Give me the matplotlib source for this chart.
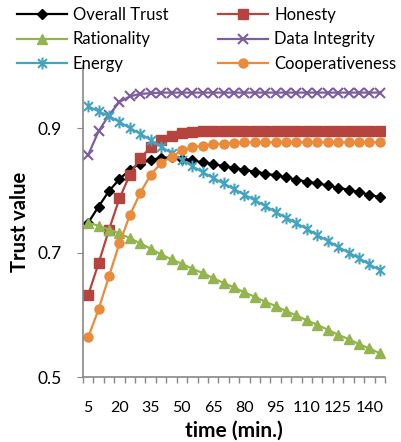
import matplotlib.pyplot as plt
import numpy as np
from matplotlib.path import Path

plt.rcParams['font.family'] = ['Lato', 'DejaVu Sans']

minutes = list(range(5, 150, 5))
tick_labels = [str(m) for m in minutes[::3]]

overall_trust = [0.748, 0.774, 0.799, 0.818, 0.833, 0.843, 0.849, 0.852, 0.853, 0.851,
                 0.848, 0.845, 0.842, 0.839, 0.836, 0.833, 0.830, 0.827, 0.824, 0.821,
                 0.817, 0.814, 0.811, 0.808, 0.804, 0.801, 0.797, 0.793, 0.789]
honesty = [0.632, 0.683, 0.737, 0.787, 0.825, 0.852, 0.869, 0.881, 0.888, 0.892,
           0.894, 0.895, 0.895, 0.895, 0.895, 0.895, 0.895, 0.895, 0.895, 0.895,
           0.895, 0.895, 0.895, 0.895, 0.895, 0.895, 0.895, 0.895, 0.895]
rationality = [0.748, 0.743, 0.737, 0.731, 0.723, 0.715, 0.706, 0.697, 0.689, 0.682,
               0.674, 0.667, 0.659, 0.651, 0.644, 0.636, 0.629, 0.621, 0.614, 0.606,
               0.599, 0.591, 0.584, 0.576, 0.568, 0.561, 0.553, 0.546, 0.538]
data_integrity = [0.857, 0.895, 0.921, 0.942, 0.951, 0.955, 0.956, 0.957, 0.957, 0.957,
                  0.957, 0.957, 0.957, 0.957, 0.957, 0.957, 0.957, 0.957, 0.957, 0.957,
                  0.957, 0.957, 0.957, 0.957, 0.957, 0.957, 0.957, 0.957, 0.957]
energy = [0.935, 0.927, 0.919, 0.910, 0.900, 0.891, 0.881, 0.870, 0.860, 0.849,
          0.839, 0.829, 0.820, 0.811, 0.802, 0.793, 0.784, 0.775, 0.765, 0.756,
          0.747, 0.738, 0.728, 0.719, 0.709, 0.700, 0.691, 0.681, 0.672]
cooperativeness = [0.564, 0.609, 0.662, 0.715, 0.760, 0.796, 0.825, 0.844, 0.854, 0.864,
                   0.869, 0.872, 0.874, 0.875, 0.876, 0.877, 0.877, 0.877, 0.877, 0.877,
                   0.877, 0.877, 0.877, 0.877, 0.877, 0.877, 0.877, 0.877, 0.877]

# excel style asterisk: X plus a vertical bar
star = Path([(0, -1), (0, 1), (-0.75, -0.75), (0.75, 0.75), (-0.75, 0.75), (0.75, -0.75)],
            [Path.MOVETO, Path.LINETO] * 3)

fig = plt.figure(figsize=(4.01, 4.42), dpi=100)
ax = fig.add_axes([0.207, 0.147, 0.753, 0.704])

x = np.arange(len(minutes))
lw = 1.6
l1, = ax.plot(x, overall_trust, color='black', lw=lw, marker='D', ms=5, label='Overall Trust')
l2, = ax.plot(x, honesty, color='#B5443F', lw=lw, marker='s', ms=6.5, label='Honesty')
l3, = ax.plot(x, rationality, color='#94B44F', lw=lw, marker='^', ms=7, label='Rationality')
l4, = ax.plot(x, data_integrity, color='#7D5E9F', lw=lw, marker='x', ms=7, mew=1.5, label='Data Integrity')
l5, = ax.plot(x, energy, color='#44A3BE', lw=lw, marker=star, ms=8.5, mew=1.5, label='Energy')
l6, = ax.plot(x, cooperativeness, color='#EA8B3C', lw=lw, marker='o', ms=6.5, label='Cooperativeness')

ax.set_xlim(-0.5, len(minutes) - 0.5)
ax.set_ylim(0.5, 1.0)
ax.set_yticks([0.5, 0.7, 0.9])
ax.set_yticklabels(['0.5', '0.7', '0.9'])
ax.set_xticks(x[::3])
ax.set_xticklabels(tick_labels)
ax.set_xticks(np.arange(-0.5, len(minutes)), minor=True)

for s in ['top', 'right']:
    ax.spines[s].set_visible(False)
for s in ['left', 'bottom']:
    ax.spines[s].set_color('#888888')
    ax.spines[s].set_linewidth(1.2)

ax.tick_params(axis='y', length=4, color='#888888', pad=11, labelsize=12.5)
ax.tick_params(axis='x', which='major', length=0, pad=17, labelsize=11.5)
ax.tick_params(axis='x', which='minor', length=4, color='#888888', width=1)

ax.set_ylabel('Trust value', fontsize=14.5, fontweight='bold', labelpad=6)
ax.set_xlabel('time (min.)', fontsize=15, fontweight='bold', labelpad=4)

# row-wise order like the original legend
handles = [l1, l3, l5, l2, l4, l6]
fig.legend(handles=handles, labels=[h.get_label() for h in handles],
           loc='upper left', bbox_to_anchor=(0.042, 0.984), ncol=2, frameon=False,
           fontsize=12, handlelength=3.0, columnspacing=3.0, labelspacing=0.5,
           handletextpad=0.35, borderaxespad=0, borderpad=0)

fig.savefig('out.png', dpi=100)
